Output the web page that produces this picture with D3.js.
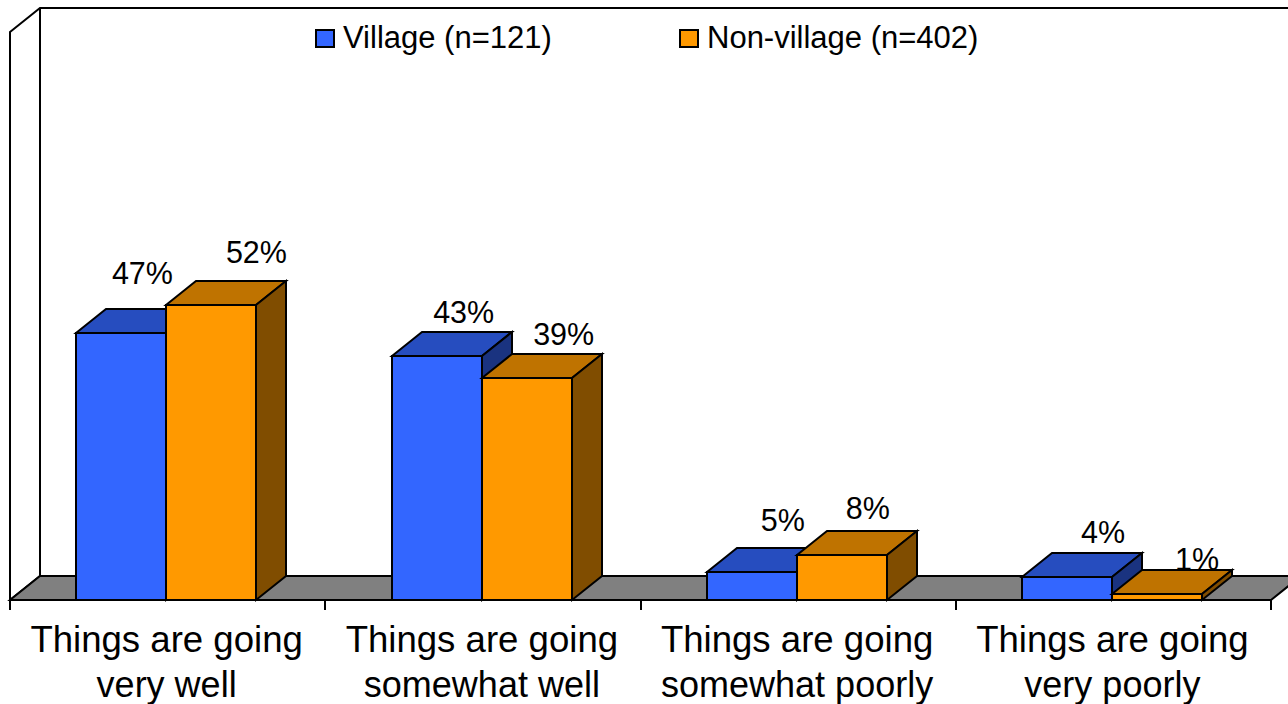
<!DOCTYPE html>
<html>
<head>
<meta charset="utf-8">
<script src="https://cdn.jsdelivr.net/npm/d3@7"></script>
<style>
  html, body { margin: 0; background: #fff; }
  svg { display: block; }
  text { font-family: "Liberation Sans", Arial, sans-serif; fill: #000; }
</style>
</head>
<body>
<div class="chart"></div>
<script>
var categories = ['Things are going very well', 'Things are going somewhat well', 'Things are going somewhat poorly', 'Things are going very poorly']
var series = ['Village (n=121)', 'Non-village (n=402)']
var village = [47, 43, 5, 4]
var nonVillage = [52, 39, 8, 1]

var colors = [
  { front: '#3366ff', top: '#264dbf', side: '#1a3380' },
  { front: '#ff9900', top: '#bf7300', side: '#804d00' }
]
// excel nudged each data label by hand, [dx, dy] from the bar's front top centre
var labelNudge = [
  [[21, -49], [45, -42]],
  [[27, -33], [37, -33]],
  [[31, -41], [26, -36]],
  [[36, -34], [40, -24]]
]

var width = 1288, height = 704
var depthX = 30, depthY = 24

var x0 = d3.scaleBand().domain(categories).range([10, 1271])
var x1 = d3.scaleBand().domain(series).range([66.4, 246.4])
var y = d3.scaleLinear().domain([0, 100]).range([600, 32])

var svg = d3.select('.chart')
  .append('svg')
    .attr('width', width)
    .attr('height', height)

// round to whole pixels so the 2px outlines stay crisp
function poly(parent, pts, fill) {
  return parent.append('polygon')
    .attr('points', pts.map(p => p.map(Math.round).join(',')).join(' '))
    .attr('fill', fill)
    .attr('stroke', '#000')
    .attr('stroke-width', 2)
    .attr('stroke-linejoin', 'miter')
}

// walls and floor
var x_l = x0.range()[0], x_r = x0.range()[1], y_b = y(0), y_t = y(100)
poly(svg, [[x_l, y_t], [x_l + depthX, y_t - depthY], [x_r + depthX, y_t - depthY], [x_r + depthX, y_b - depthY], [x_l + depthX, y_b - depthY], [x_l, y_b]], '#fff')
svg.append('line')
  .attr('x1', x_l + depthX).attr('x2', x_l + depthX)
  .attr('y1', y_t - depthY).attr('y2', y_b - depthY)
  .attr('stroke', '#000').attr('stroke-width', 2)
poly(svg, [[x_l, y_b], [x_l + depthX, y_b - depthY], [x_r + depthX, y_b - depthY], [x_r, y_b]], '#808080')

// bars, back to front so orange top covers the blue side
categories.forEach(function(c, i) {
  var g = svg.append('g').attr('class', 'group')
  ;[village[i], nonVillage[i]].forEach(function(v, s) {
    var a = x0(c) + x1(series[s])
    var b = a + x1.bandwidth()
    var t = y(v)
    poly(g, [[a, t], [a + depthX, t - depthY], [b + depthX, t - depthY], [b, t]], colors[s].top)
    poly(g, [[b, t], [b + depthX, t - depthY], [b + depthX, y_b - depthY], [b, y_b]], colors[s].side)
    poly(g, [[a, t], [b, t], [b, y_b], [a, y_b]], colors[s].front)
  })
})

// data labels
categories.forEach(function(c, i) {
  ;[village[i], nonVillage[i]].forEach(function(v, s) {
    svg.append('text')
      .attr('x', x0(c) + x1(series[s]) + x1.bandwidth() / 2 + labelNudge[i][s][0])
      .attr('y', y(v) + labelNudge[i][s][1])
      .attr('text-anchor', 'middle')
      .attr('font-size', 30.5)
      .text(v + '%')
  })
})

// axis: ticks sit on the band edges, labels in the middle
var edges = categories.map(c => x0(c)).concat([x_r])
svg.selectAll('.tick-mark')
  .data(edges)
  .enter()
  .append('line')
    .attr('class', 'tick-mark')
    .attr('x1', d => Math.round(d)).attr('x2', d => Math.round(d))
    .attr('y1', y_b).attr('y2', y_b + 10)
    .attr('stroke', '#000').attr('stroke-width', 2)

var labels = svg.selectAll('.cat')
  .data(categories)
  .enter()
  .append('text')
    .attr('class', 'cat')
    .attr('text-anchor', 'middle')
    .attr('font-size', 36.6)
labels.append('tspan')
  .attr('x', d => x0(d) + x0.bandwidth() / 2 - 1)
  .attr('y', 652)
  .text('Things are going')
labels.append('tspan')
  .attr('x', d => x0(d) + x0.bandwidth() / 2 - 1)
  .attr('y', 697)
  .attr('font-size', 36)
  .text(d => d.replace('Things are going ', ''))

// legend
var legendX = [315, 679]
series.forEach(function(s, i) {
  svg.append('rect')
    .attr('x', legendX[i] + 1).attr('y', 30)
    .attr('width', 18).attr('height', 17)
    .attr('fill', colors[i].front)
    .attr('stroke', '#000').attr('stroke-width', 2)
  svg.append('text')
    .attr('x', legendX[i] + 28).attr('y', 48)
    .attr('font-size', 31)
    .text(s)
})
</script>
</body>
</html>
